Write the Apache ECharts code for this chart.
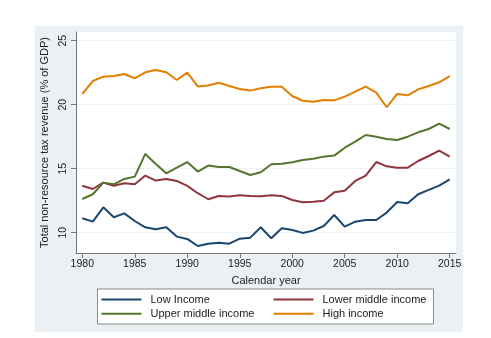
<!DOCTYPE html>
<html>
<head>
<meta charset="utf-8">
<script src="https://cdn.jsdelivr.net/npm/echarts@6/dist/echarts.min.js"></script>
<style>
  html, body { margin: 0; padding: 0; background: #fff; }
  #chart { width: 491px; height: 338px; }
</style>
</head>
<body>
<div id="chart"></div>
<script>
const years = [1980, 1981, 1982, 1983, 1984, 1985, 1986, 1987, 1988, 1989,
    1990, 1991, 1992, 1993, 1994, 1995, 1996, 1997, 1998, 1999,
    2000, 2001, 2002, 2003, 2004, 2005, 2006, 2007, 2008, 2009,
    2010, 2011, 2012, 2013, 2014, 2015]
const lowIncome = [11.12, 10.86, 11.98, 11.2, 11.51, 10.91, 10.42, 10.26, 10.42, 9.69,
    9.51, 8.96, 9.14, 9.22, 9.14, 9.53, 9.61, 10.42, 9.56, 10.34,
    10.21, 9.98, 10.16, 10.52, 11.38, 10.47, 10.86, 10.99, 10.99, 11.57,
    12.4, 12.29, 13.0, 13.34, 13.67, 14.17]
const lowerMiddle = [13.67, 13.41, 13.91, 13.67, 13.86, 13.78, 14.46, 14.07, 14.2, 14.04,
    13.65, 13.08, 12.61, 12.87, 12.82, 12.92, 12.87, 12.84, 12.92, 12.87,
    12.55, 12.37, 12.42, 12.5, 13.15, 13.28, 14.04, 14.46, 15.52, 15.18,
    15.08, 15.08, 15.6, 15.99, 16.41, 15.94]
const upperMiddle = [12.63, 13.0, 13.91, 13.78, 14.2, 14.38, 16.15, 15.37, 14.64, 15.08,
    15.52, 14.77, 15.24, 15.13, 15.13, 14.82, 14.51, 14.72, 15.34, 15.39,
    15.5, 15.68, 15.78, 15.94, 16.02, 16.64, 17.11, 17.63, 17.5, 17.32,
    17.24, 17.5, 17.84, 18.1, 18.52, 18.1]
const highIncome = [20.84, 21.85, 22.19, 22.24, 22.4, 22.06, 22.53, 22.71, 22.53, 21.93,
    22.5, 21.43, 21.5, 21.72, 21.46, 21.23, 21.1, 21.28, 21.41, 21.41,
    20.68, 20.31, 20.23, 20.37, 20.34, 20.63, 21.02, 21.41, 20.94, 19.8,
    20.84, 20.73, 21.2, 21.46, 21.75, 22.24]
const xTicks = [1980, 1985, 1990, 1995, 2000, 2005, 2010, 2015]
const yTicks = [10, 15, 20, 25]

const font = 'Liberation Sans, Arial, sans-serif'
const pairs = (vals) => years.map((y, i) => [y, vals[i]])
const line = (name, vals, color) => ({
    name: name,
    type: 'line',
    data: pairs(vals),
    symbol: 'none',
    lineStyle: { color: color, width: 2 },
    itemStyle: { color: color }
})

const myChart = echarts.init(document.getElementById('chart'))
myChart.setOption({
    backgroundColor: '#fff',
    animation: false,
    graphic: [
        { type: 'rect', z: -10, shape: { x: 35, y: 26, width: 428, height: 306 }, style: { fill: '#eaf0f3' } },
        { type: 'rect', z: -5, shape: { x: 97.5, y: 289, width: 336, height: 35 }, style: { fill: '#fff', stroke: '#8a8a8a', lineWidth: 1 } }
    ],
    grid: {
        left: 76, right: 35, top: 32, bottom: 85,
        show: true, backgroundColor: '#fff', borderWidth: 0
    },
    legend: [{
        orient: 'vertical', left: 101.5, top: 293, padding: 0, itemGap: 1.3,
        itemWidth: 40, itemHeight: 2, icon: 'rect',
        textStyle: { fontFamily: font, fontSize: 11, color: '#222', padding: [0, 0, 0, 4], lineHeight: 13 },
        data: ['Low Income', 'Upper middle income']
    }, {
        orient: 'vertical', left: 273.5, top: 293, padding: 0, itemGap: 1.3,
        itemWidth: 40, itemHeight: 2, icon: 'rect',
        textStyle: { fontFamily: font, fontSize: 11, color: '#222', padding: [0, 0, 0, 4], lineHeight: 13 },
        data: ['Lower middle income', 'High income']
    }],
    xAxis: {
        type: 'value', min: 1979.4, max: 2015.6,
        name: 'Calendar year', nameLocation: 'middle', nameGap: 22,
        nameTextStyle: { fontFamily: font, fontSize: 11, color: '#222' },
        axisLine: { show: true, lineStyle: { color: '#777', width: 1 } },
        axisTick: { show: true, length: 5, lineStyle: { color: '#777' }, customValues: xTicks },
        axisLabel: { fontFamily: font, fontSize: 10.5, color: '#222', margin: 6, customValues: xTicks, formatter: (v) => String(v) },
        splitLine: { show: false }
    },
    yAxis: {
        type: 'value', min: 8.41, max: 25.68,
        name: 'Total non-resource tax revenue (% of GDP)', nameLocation: 'middle', nameGap: 18,
        nameTextStyle: { fontFamily: font, fontSize: 11, color: '#222' },
        axisLine: { show: true, lineStyle: { color: '#777', width: 1 } },
        axisTick: { show: true, length: 5, lineStyle: { color: '#777' }, customValues: yTicks },
        axisLabel: { fontFamily: font, fontSize: 10.5, color: '#222', margin: 7, rotate: 90, customValues: yTicks },
        splitLine: { show: true, lineStyle: { color: '#eef2f4', width: 1 } }
    },
    series: [
        line('Low Income', lowIncome, '#1a476f'),
        line('Lower middle income', lowerMiddle, '#90353b'),
        line('Upper middle income', upperMiddle, '#55752f'),
        line('High income', highIncome, '#e37e00')
    ]
})
</script>
</body>
</html>
